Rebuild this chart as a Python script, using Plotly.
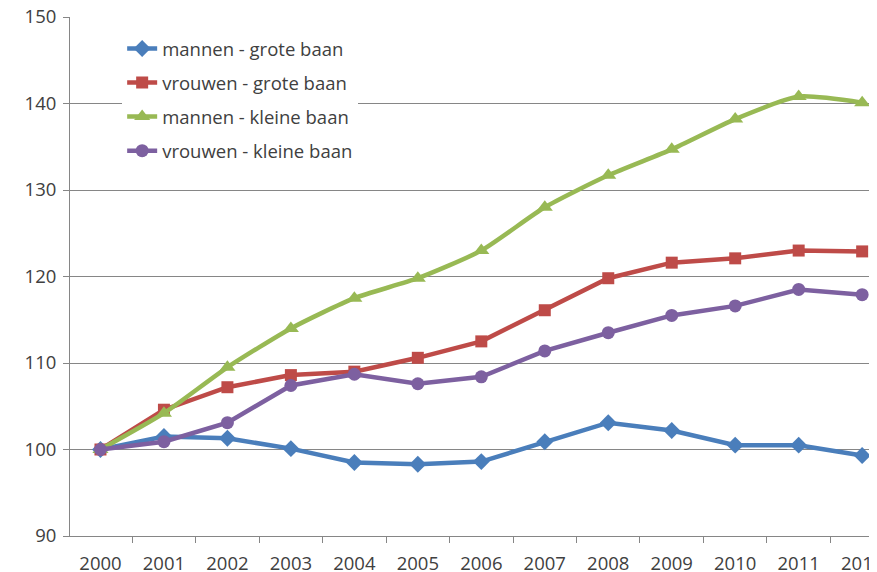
import plotly.graph_objects as go

years = ["2000", "2001", "2002", "2003", "2004", "2005", "2006",
         "2007", "2008", "2009", "2010", "2011", "2012"]
mannen_grote = [100, 101.5, 101.3, 100.1, 98.5, 98.3, 98.6, 100.9, 103.1, 102.2, 100.5, 100.5, 99.3]
vrouwen_grote = [100, 104.6, 107.2, 108.6, 109.0, 110.6, 112.5, 116.1, 119.8, 121.6, 122.1, 123.0, 122.9]
mannen_kleine = [100, 104.2, 109.5, 114.0, 117.5, 119.8, 123.0, 128.0, 131.7, 134.7, 138.2, 140.8, 140.1]
vrouwen_kleine = [100, 100.9, 103.1, 107.4, 108.7, 107.6, 108.4, 111.4, 113.5, 115.5, 116.6, 118.5, 117.9]

series = [
    ("mannen - grote baan", mannen_grote, "#4A7EBB", "diamond", 13, "linear"),
    ("vrouwen - grote baan", vrouwen_grote, "#BE4B48", "square", 12, "linear"),
    ("mannen - kleine baan", mannen_kleine, "#98B954", "triangle-up", 14, "spline"),
    ("vrouwen - kleine baan", vrouwen_kleine, "#7D60A0", "circle", 13, "linear"),
]

fig = go.Figure()
for i, (name, vals, col, sym, sz, shape) in enumerate(series):
    fig.add_trace(go.Scatter(
        x=years, y=vals, name=name, mode="lines+markers",
        line=dict(color=col, width=4.5, shape=shape, smoothing=0.6),
        marker=dict(symbol=sym, size=sz, color=col),
        legendgroup=str(i),
    ))

font_family = "Open Sans, Arial, sans-serif"

fig.update_layout(
    width=877, height=572,
    margin=dict(l=62, r=0, t=9, b=44, autoexpand=False),
    paper_bgcolor="white", plot_bgcolor="white",
    font=dict(family=font_family, size=18.5, color="#404040"),
    showlegend=True,
    legend=dict(
        x=0.064, y=0.975, xanchor="left", yanchor="top",
        bgcolor="white", font=dict(size=18.5, color="#404040"),
        tracegroupgap=7,
    ),
    xaxis=dict(
        type="category", range=[-0.48, 12.36], automargin=False,
        showline=True, linecolor="#868686", linewidth=1,
        ticks="outside", tickson="boundaries", ticklen=6, tickcolor="#868686",
        showgrid=False, tickfont=dict(size=18.5), ticklabelstandoff=11,
        ticklabeloverflow="allow",
    ),
    yaxis=dict(
        range=[90, 150], dtick=10, automargin=False,
        showline=True, linecolor="#868686", linewidth=1,
        ticks="outside", ticklen=6, tickcolor="#868686",
        showgrid=True, gridcolor="#868686", gridwidth=1,
        zeroline=False, tickfont=dict(size=18.5), ticklabelstandoff=3,
        ticklabeloverflow="allow",
    ),
)

fig.add_annotation(
    text="(indexcijfers, 2000 = 100)", xref="paper", yref="paper",
    x=-0.082, y=1.0 + 6 / 519, xanchor="left", yanchor="bottom",
    showarrow=False, font=dict(size=18.5, color="#404040"),
)

fig.write_html("out.html")
